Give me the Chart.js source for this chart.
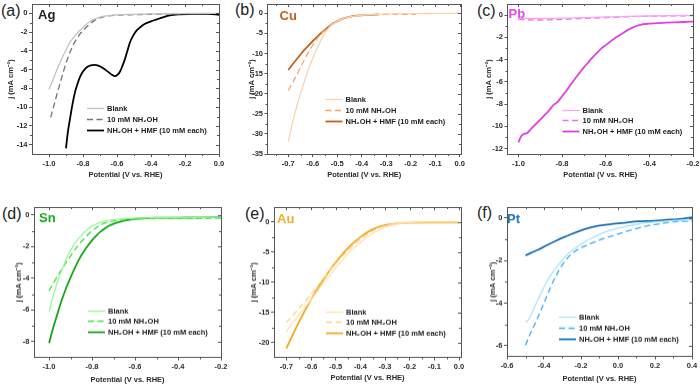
<!DOCTYPE html>
<html>
<head>
<meta charset="utf-8">
<script src="https://cdn.jsdelivr.net/npm/chart.js@4.4.1/dist/chart.umd.min.js"></script>
<style>
  body { margin: 0; background: #fff; width: 700px; height: 384px; overflow: hidden; position: relative; font-family: "Liberation Sans", Arial, sans-serif; }
  canvas { position: absolute; }
  .tag { position: absolute; font-size: 16px; line-height: 16px; color: #222; }
</style>
</head>
<body>
<div class="tag" style="left:1px;top:3px">(a)</div>
<div class="tag" style="left:235px;top:2px">(b)</div>
<div class="tag" style="left:477px;top:3px">(c)</div>
<div class="tag" style="left:2px;top:206px">(d)</div>
<div class="tag" style="left:245px;top:206px">(e)</div>
<div class="tag" style="left:477px;top:205px">(f)</div>
<canvas id="pa"></canvas>
<canvas id="pb"></canvas>
<canvas id="pc"></canvas>
<canvas id="pd"></canvas>
<canvas id="pe"></canvas>
<canvas id="pf"></canvas>
<script>
// series names and axis titles
const seriesNames = ['Blank', '10 mM NH\u2082OH', 'NH\u2082OH + HMF (10 mM each)'];
const xTitle = 'Potential (V vs. RHE)';
const yTitle = 'j (mA cm\u207B\u00B2)';

// (a) Ag  [potential, current density]
const agBlank = [[-1.0,-8.1],[-0.977,-7.1],[-0.955,-6.1],[-0.935,-5.25],[-0.916,-4.5],[-0.896,-3.75],[-0.876,-3.07],[-0.857,-2.6],[-0.837,-2.18],[-0.818,-1.8],[-0.798,-1.46],[-0.779,-1.15],[-0.759,-0.86],[-0.73,-0.6],[-0.7,-0.4],[-0.65,-0.25],[-0.6,-0.15],[-0.5,-0.1],[-0.4,-0.06],[-0.3,-0.04],[-0.2,-0.02],[-0.1,0],[0,0]];
const agNh2oh = [[-0.99,-11.1],[-0.972,-9.9],[-0.955,-8.75],[-0.935,-7.45],[-0.916,-6.25],[-0.896,-5.1],[-0.876,-4.13],[-0.857,-3.35],[-0.837,-2.7],[-0.818,-2.2],[-0.798,-1.82],[-0.779,-1.45],[-0.759,-1.1],[-0.74,-0.85],[-0.72,-0.64],[-0.69,-0.42],[-0.66,-0.29],[-0.6,-0.2],[-0.52,-0.15],[-0.4,-0.1],[-0.3,-0.06],[-0.2,-0.03]];
const agHmf = [[-0.9,-14.4],[-0.89,-12.8],[-0.876,-11.2],[-0.862,-9.7],[-0.847,-8.4],[-0.832,-7.5],[-0.818,-6.8],[-0.8,-6.2],[-0.778,-5.75],[-0.755,-5.55],[-0.73,-5.5],[-0.71,-5.58],[-0.69,-5.75],[-0.67,-6.0],[-0.65,-6.27],[-0.63,-6.55],[-0.612,-6.7],[-0.597,-6.55],[-0.582,-6.2],[-0.568,-5.6],[-0.553,-4.85],[-0.538,-3.95],[-0.524,-3.1],[-0.504,-2.35],[-0.484,-1.82],[-0.46,-1.42],[-0.435,-1.11],[-0.4,-0.85],[-0.366,-0.64],[-0.33,-0.42],[-0.29,-0.21],[-0.23,-0.1],[-0.13,-0.05],[-0.06,-0.06],[0,-0.15]];

// (b) Cu
const cuBlank = [[-0.7,-31.9],[-0.68,-26.5],[-0.66,-22.0],[-0.64,-18.0],[-0.62,-14.3],[-0.6,-11.2],[-0.58,-8.4],[-0.56,-5.9],[-0.54,-4.0],[-0.52,-2.8],[-0.5,-2.0],[-0.48,-1.4],[-0.45,-0.9],[-0.4,-0.5],[-0.35,-0.3],[-0.3,-0.15],[-0.2,-0.1],[-0.1,-0.05],[0,0]];
const cuNh2oh = [[-0.7,-19.2],[-0.68,-17.0],[-0.66,-14.6],[-0.64,-12.2],[-0.62,-9.9],[-0.6,-7.9],[-0.58,-6.1],[-0.56,-4.6],[-0.54,-3.4],[-0.52,-2.5],[-0.5,-1.8],[-0.47,-1.2],[-0.44,-0.8],[-0.4,-0.5],[-0.35,-0.35],[-0.3,-0.3],[-0.25,-0.25],[-0.18,-0.3]];
const cuHmf = [[-0.7,-14.1],[-0.68,-12.5],[-0.66,-11.0],[-0.64,-9.5],[-0.62,-8.2],[-0.6,-6.9],[-0.58,-5.7],[-0.56,-4.6],[-0.54,-3.6],[-0.52,-2.7],[-0.5,-2.0],[-0.48,-1.4],[-0.45,-0.9],[-0.42,-0.6],[-0.38,-0.4],[-0.33,-0.3]];

// (c) Pb
const pbBlank = [[-1.0,-0.3],[-0.9,-0.3],[-0.8,-0.28],[-0.7,-0.22],[-0.6,-0.17],[-0.5,-0.12],[-0.4,-0.08],[-0.3,-0.05],[-0.2,-0.03]];
const pbNh2oh = [[-1.0,-0.38],[-0.95,-0.42],[-0.9,-0.44],[-0.85,-0.42],[-0.8,-0.38],[-0.7,-0.3],[-0.6,-0.22],[-0.5,-0.15],[-0.4,-0.1],[-0.3,-0.07],[-0.2,-0.05]];
const pbHmf = [[-1.0,-11.45],[-0.99,-11.0],[-0.98,-10.75],[-0.96,-10.6],[-0.94,-10.2],[-0.92,-9.8],[-0.9,-9.4],[-0.88,-9.0],[-0.86,-8.6],[-0.84,-8.1],[-0.82,-7.8],[-0.8,-7.3],[-0.78,-6.8],[-0.76,-6.25],[-0.74,-5.7],[-0.72,-5.2],[-0.7,-4.7],[-0.68,-4.25],[-0.66,-3.8],[-0.64,-3.4],[-0.62,-3.0],[-0.6,-2.7],[-0.58,-2.4],[-0.56,-2.1],[-0.54,-1.85],[-0.52,-1.6],[-0.5,-1.35],[-0.48,-1.15],[-0.46,-0.98],[-0.44,-0.87],[-0.42,-0.8],[-0.4,-0.77],[-0.36,-0.72],[-0.32,-0.68],[-0.28,-0.65],[-0.24,-0.62],[-0.2,-0.58]];

// (d) Sn
const snBlank = [[-1.0,-6.1],[-0.98,-5.1],[-0.96,-4.2],[-0.94,-3.45],[-0.92,-2.8],[-0.9,-2.25],[-0.88,-1.8],[-0.86,-1.45],[-0.84,-1.15],[-0.82,-0.9],[-0.8,-0.72],[-0.78,-0.57],[-0.76,-0.46],[-0.73,-0.36],[-0.7,-0.3],[-0.65,-0.24],[-0.6,-0.2],[-0.5,-0.17],[-0.4,-0.16],[-0.3,-0.15],[-0.2,-0.14]];
const snNh2oh = [[-1.0,-4.8],[-0.98,-4.3],[-0.96,-3.85],[-0.94,-3.4],[-0.92,-3.0],[-0.9,-2.6],[-0.88,-2.2],[-0.86,-1.85],[-0.84,-1.55],[-0.82,-1.25],[-0.8,-1.0],[-0.78,-0.8],[-0.76,-0.62],[-0.73,-0.46],[-0.7,-0.38],[-0.65,-0.3],[-0.6,-0.26],[-0.5,-0.23],[-0.4,-0.22],[-0.3,-0.22],[-0.2,-0.2]];
const snHmf = [[-1.0,-8.1],[-0.98,-7.1],[-0.96,-6.2],[-0.94,-5.35],[-0.92,-4.6],[-0.9,-3.95],[-0.88,-3.35],[-0.86,-2.8],[-0.84,-2.35],[-0.82,-1.95],[-0.8,-1.6],[-0.78,-1.3],[-0.76,-1.05],[-0.74,-0.85],[-0.72,-0.68],[-0.7,-0.56],[-0.67,-0.43],[-0.64,-0.33],[-0.6,-0.26],[-0.55,-0.2],[-0.5,-0.18],[-0.4,-0.17],[-0.3,-0.16],[-0.2,-0.14]];

// (e) Au
const auBlank = [[-0.7,-18.2],[-0.65,-15.5],[-0.6,-12.9],[-0.55,-10.2],[-0.5,-7.6],[-0.45,-5.3],[-0.4,-3.4],[-0.35,-1.9],[-0.3,-0.85],[-0.25,-0.3],[-0.2,-0.1],[-0.1,0],[0,0]];
const auNh2oh = [[-0.7,-16.7],[-0.65,-14.4],[-0.6,-12.0],[-0.55,-9.4],[-0.5,-6.9],[-0.45,-4.7],[-0.4,-2.9],[-0.35,-1.5],[-0.3,-0.6],[-0.25,-0.22],[-0.2,-0.1]];
const auHmf = [[-0.7,-21.0],[-0.65,-16.7],[-0.6,-12.9],[-0.55,-9.6],[-0.5,-6.7],[-0.45,-4.3],[-0.4,-2.5],[-0.35,-1.2],[-0.3,-0.5],[-0.25,-0.25],[-0.2,-0.12],[-0.1,-0.05],[0,-0.05]];

// (f) Pt
const ptBlank = [[-0.5,-4.9],[-0.48,-4.74],[-0.455,-4.25],[-0.43,-3.8],[-0.405,-3.34],[-0.377,-2.88],[-0.35,-2.52],[-0.32,-2.19],[-0.295,-1.93],[-0.27,-1.69],[-0.24,-1.49],[-0.215,-1.33],[-0.18,-1.13],[-0.14,-0.95],[-0.105,-0.8],[-0.07,-0.67],[-0.025,-0.55],[0.02,-0.45],[0.065,-0.36],[0.11,-0.29],[0.155,-0.24],[0.2,-0.2],[0.29,-0.14],[0.4,-0.1]];
const ptNh2oh = [[-0.5,-5.98],[-0.475,-5.45],[-0.449,-4.98],[-0.42,-4.4],[-0.395,-3.89],[-0.368,-3.33],[-0.34,-2.8],[-0.313,-2.38],[-0.286,-2.03],[-0.26,-1.77],[-0.232,-1.57],[-0.2,-1.4],[-0.16,-1.26],[-0.115,-1.1],[-0.07,-0.95],[-0.025,-0.83],[0.02,-0.71],[0.065,-0.59],[0.11,-0.48],[0.155,-0.39],[0.2,-0.32],[0.29,-0.2],[0.4,-0.15]];
const ptHmf = [[-0.5,-1.77],[-0.465,-1.63],[-0.43,-1.49],[-0.385,-1.29],[-0.34,-1.1],[-0.295,-0.92],[-0.25,-0.76],[-0.205,-0.61],[-0.16,-0.48],[-0.115,-0.39],[-0.07,-0.33],[-0.025,-0.28],[0.02,-0.25],[0.11,-0.17],[0.2,-0.14],[0.29,-0.09],[0.35,-0.05],[0.4,0.02]];

// tick labels
const agXTicks = [-1.0,-0.8,-0.6,-0.4,-0.2,0.0];
const agYTicks = [-14,-12,-10,-8,-6,-4,-2,0];
const cuXTicks = [-0.7,-0.6,-0.5,-0.4,-0.3,-0.2,-0.1,0.0];
const cuYTicks = [-35,-30,-25,-20,-15,-10,-5,0];
const pbXTicks = [-1.0,-0.8,-0.6,-0.4,-0.2];
const pbYTicks = [-12,-10,-8,-6,-4,-2,0];
const snXTicks = [-1.0,-0.8,-0.6,-0.4,-0.2];
const snYTicks = [-8,-6,-4,-2,0];
const auXTicks = [-0.7,-0.6,-0.5,-0.4,-0.3,-0.2,-0.1,0.0];
const auYTicks = [-20,-15,-10,-5,0];
const ptXTicks = [-0.6,-0.4,-0.2,0.0,0.2,0.4];
const ptYTicks = [-6,-4,-2,0];

const AXIS = '#555';
const TXT = '#2a2a2a';
const FONT = '"Liberation Sans", Arial, sans-serif';
Chart.defaults.font.family = FONT;

const panels = [
  {id:'pa', box:[32,4,219,154], yw:26, xh:25, x:[-1.1,0], y:[-15,1], xt:agXTicks, yt:agYTicks,
   metal:'Ag', mc:'#222222', mdx:6, mdy:15, leg:[55,104], cols:['#c2c2c2','#747474','#000000'], series:[agBlank,agNh2oh,agHmf]},
  {id:'pb', box:[267,4,461,154], yw:20.5, xh:25, x:[-0.785,0.005], y:[-35,2.3], xt:cuXTicks, yt:cuYTicks,
   metal:'Cu', mc:'#c0621e', mdx:12, mdy:16, leg:[58,95], cols:['#fcd2ad','#f5a466','#c4621c'], series:[cuBlank,cuNh2oh,cuHmf]},
  {id:'pc', box:[507,4,693,154], yw:23.5, xh:25, x:[-1.05,-0.2], y:[-12.5,1], xt:pbXTicks, yt:pbYTicks,
   metal:'Pb', mc:'#e448e4', mdx:1, mdy:14, leg:[55,105.5], cols:['#f7a6f7','#ee6cee','#e040e0'], series:[pbBlank,pbNh2oh,pbHmf]},
  {id:'pd', box:[34,207,221,357], yw:20, xh:26.5, x:[-1.07,-0.2], y:[-9,0.5], xt:snXTicks, yt:snYTicks,
   metal:'Sn', mc:'#1aa61a', mdx:5, mdy:15, leg:[54,102.5], cols:['#9cf39c','#3ee33e','#14a314'], series:[snBlank,snNh2oh,snHmf]},
  {id:'pe', box:[274,207,461,357], yw:25, xh:24.5, x:[-0.75,0.008], y:[-22.5,2.5], xt:auXTicks, yt:auYTicks,
   metal:'Au', mc:'#f0ae2a', mdx:3, mdy:16, leg:[52,103.5], cols:['#fde2b0','#fbd18a','#f2a81e'], series:[auBlank,auNh2oh,auHmf]},
  {id:'pf', box:[507,207,692,356], yw:19, xh:26.5, x:[-0.6,0.4], y:[-6.5,0.5], xt:ptXTicks, yt:ptYTicks,
   metal:'Pt', mc:'#1a76b6', mdx:0, mdy:16, leg:[52,109], cols:['#ade3f8','#3caef0','#1b6fb0'], series:[ptBlank,ptNh2oh,ptHmf]}
];

const PAD_T = 8, PAD_R = 12;

// frame, mirror and minor ticks, metal tag and in-plot legend
const deco = {
  id: 'deco',
  afterDatasetsDraw(chart, args, o) {
    const {ctx, chartArea: a, scales: {x, y}} = chart;
    ctx.save();
    ctx.strokeStyle = AXIS;
    ctx.lineWidth = 1;
    ctx.beginPath();
    ctx.moveTo(a.left, a.top + 0.5); ctx.lineTo(a.right + 0.5, a.top + 0.5);
    ctx.moveTo(a.right + 0.5, a.top); ctx.lineTo(a.right + 0.5, a.bottom + 0.5);
    // major ticks on top / right (inward)
    o.xt.forEach(v => {
      const px = Math.round(x.getPixelForValue(v)) + 0.5;
      ctx.moveTo(px, a.top); ctx.lineTo(px, a.top + 3);
    });
    o.yt.forEach(v => {
      const py = Math.round(y.getPixelForValue(v)) + 0.5;
      ctx.moveTo(a.right, py); ctx.lineTo(a.right - 3, py);
    });
    // minor ticks halfway between majors
    const minor = (ticks, lo, hi) => {
      const step = ticks[1] - ticks[0], out = [];
      for (let i = -1; i < ticks.length; i++) {
        const m = ticks[0] + (i + 0.5) * step;
        if (m > lo && m < hi) out.push(m);
      }
      return out;
    };
    minor(o.xt, x.min, x.max).forEach(v => {
      const px = Math.round(x.getPixelForValue(v)) + 0.5;
      ctx.moveTo(px, a.bottom); ctx.lineTo(px, a.bottom + 2);
      ctx.moveTo(px, a.top); ctx.lineTo(px, a.top + 2);
    });
    minor(o.yt, y.min, y.max).forEach(v => {
      const py = Math.round(y.getPixelForValue(v)) + 0.5;
      ctx.moveTo(a.left, py); ctx.lineTo(a.left - 2, py);
      ctx.moveTo(a.right, py); ctx.lineTo(a.right - 2, py);
    });
    ctx.stroke();

    // metal name
    ctx.font = 'bold 13px ' + FONT;
    ctx.fillStyle = o.mc;
    ctx.textBaseline = 'alphabetic';
    ctx.fillText(o.metal, a.left + o.mdx, a.top + o.mdy);

    // legend
    ctx.font = 'bold 7.5px ' + FONT;
    ctx.textBaseline = 'middle';
    seriesNames.forEach((n, i) => {
      const ds = chart.data.datasets[i];
      const x0 = a.left + o.leg[0];
      const yy = Math.round(a.top + o.leg[1] + i * 10.8) + 0.5;
      ctx.strokeStyle = ds.borderColor;
      ctx.lineWidth = ds.borderWidth;
      ctx.setLineDash(ds.borderDash || []);
      ctx.beginPath(); ctx.moveTo(x0, yy); ctx.lineTo(x0 + 17, yy); ctx.stroke();
      ctx.setLineDash([]);
      ctx.fillStyle = '#222';
      ctx.fillText(n, x0 + 20, yy);
    });
    ctx.restore();
  }
};

const fmtX = v => Math.abs(v) < 1e-9 ? '0.0' : v.toFixed(1);
const fmtY = v => String(Math.round(v));

panels.forEach(p => {
  const [l, t, r, b] = p.box;
  const cv = document.getElementById(p.id);
  const w = p.yw + (r - l) + PAD_R;
  const h = PAD_T + (b - t) + p.xh;
  cv.width = w; cv.height = h;
  cv.style.left = (l - p.yw) + 'px';
  cv.style.top = (t - PAD_T) + 'px';
  cv.style.width = w + 'px';
  cv.style.height = h + 'px';

  const styles = [
    {borderWidth: 1.3, borderDash: []},
    {borderWidth: 1.3, borderDash: [6, 3.5]},
    {borderWidth: 1.8, borderDash: []}
  ];

  new Chart(cv, {
    type: 'line',
    data: {
      datasets: p.series.map((s, i) => ({
        label: seriesNames[i],
        data: s.map(([px, py]) => ({x: px, y: py})),
        borderColor: p.cols[i],
        borderWidth: styles[i].borderWidth,
        borderDash: styles[i].borderDash,
        pointRadius: 0,
        fill: false,
        cubicInterpolationMode: 'monotone'
      }))
    },
    options: {
      responsive: false,
      animation: false,
      devicePixelRatio: 1,
      layout: {padding: {left: 0, right: PAD_R, top: PAD_T, bottom: 0}},
      plugins: {
        legend: {display: false},
        tooltip: {enabled: false},
        deco: {xt: p.xt, yt: p.yt, metal: p.metal, mc: p.mc, mdx: p.mdx, mdy: p.mdy, leg: p.leg}
      },
      scales: {
        x: {
          type: 'linear', min: p.x[0], max: p.x[1],
          afterBuildTicks: s => { s.ticks = p.xt.map(v => ({value: v})); },
          afterFit: s => { s.height = p.xh; },
          ticks: {callback: fmtX, font: {size: 7.5, weight: 'bold'}, color: TXT, padding: 2, maxRotation: 0, autoSkip: false},
          grid: {drawOnChartArea: false, tickLength: 3, color: AXIS},
          border: {color: AXIS, width: 1},
          title: {display: true, text: xTitle, font: {size: 7.5, weight: 'bold'}, color: TXT, padding: 0}
        },
        y: {
          type: 'linear', min: p.y[0], max: p.y[1],
          afterBuildTicks: s => { s.ticks = p.yt.map(v => ({value: v})); },
          afterFit: s => { s.width = p.yw; },
          ticks: {callback: fmtY, font: {size: 7.5, weight: 'bold'}, color: TXT, padding: 1.5, autoSkip: false},
          grid: {drawOnChartArea: false, tickLength: 3, color: AXIS},
          border: {color: AXIS, width: 1},
          title: {display: true, text: yTitle, font: {size: 7.5, weight: 'bold'}, color: TXT, padding: 0}
        }
      }
    },
    plugins: [deco]
  });
});
</script>
</body>
</html>
